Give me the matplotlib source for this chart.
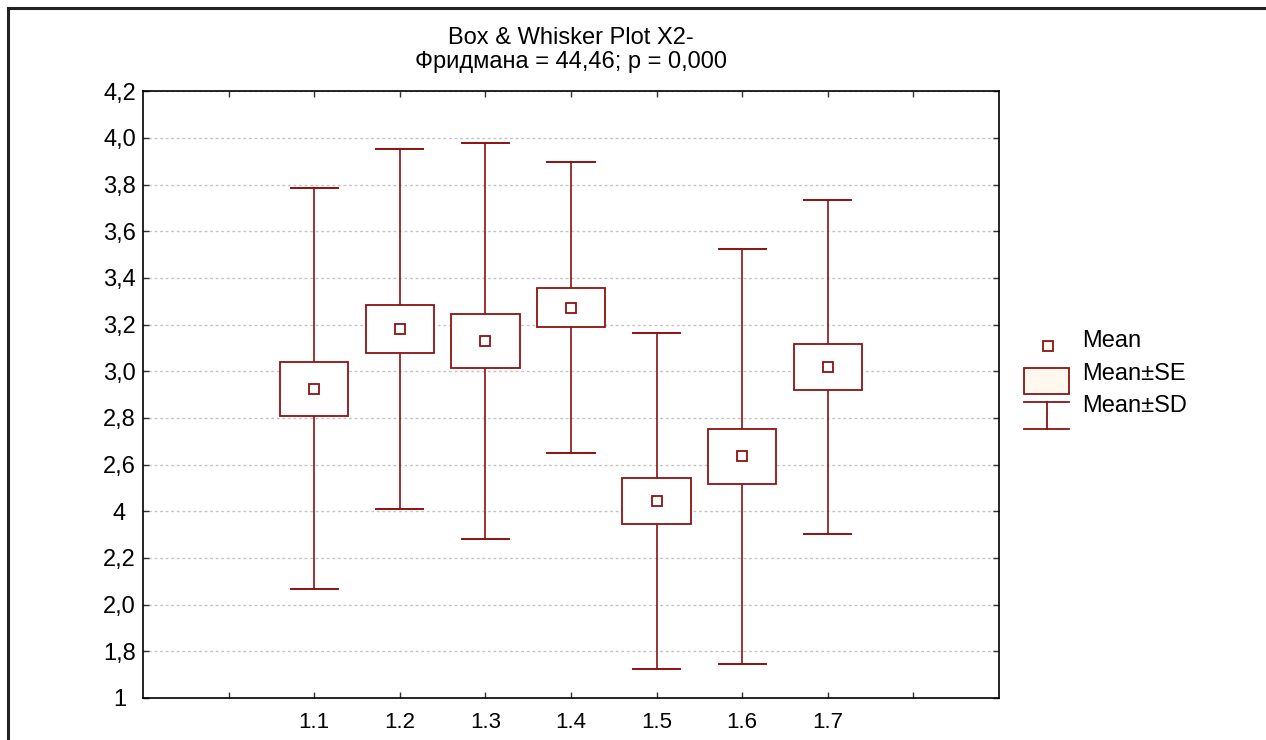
import numpy as np
import matplotlib
matplotlib.use("Agg")
import matplotlib.pyplot as plt
from matplotlib.patches import Rectangle
from matplotlib.lines import Line2D

plt.rcParams['font.family'] = ['Liberation Sans', 'DejaVu Sans']

# values
groups = ['1.1', '1.2', '1.3', '1.4', '1.5', '1.6', '1.7']
means = [2.926, 3.181, 3.130, 3.273, 2.444, 2.635, 3.018]
se = [0.116, 0.103, 0.116, 0.085, 0.097, 0.119, 0.099]
sd = [0.858, 0.773, 0.849, 0.623, 0.720, 0.890, 0.715]
ytick_vals = [4.2, 4.0, 3.8, 3.6, 3.4, 3.2, 3.0, 2.8, 2.6, 2.4, 2.2, 2.0, 1.8, 1.6]
ytick_labels = ['4,2', '4,0', '3,8', '3,6', '3,4', '3,2', '3,0', '2,8', '2,6',
                '4', '2,2', '2,0', '1,8', '1']
title = 'Box & Whisker Plot X2-\nФридмана = 44,46; p = 0,000'

red = '#8b1212'
cream = '#fff8ee'

W, H = 1266, 740
fig = plt.figure(figsize=(W / 100, H / 100), dpi=100)
ax = fig.add_axes([143 / W, 1 - 698 / H, (999 - 143) / W, (698 - 91.3) / H])

xs = np.arange(2, 2 + len(groups))
box_w = 0.8
cap_w = 0.55
for x, m, e, d in zip(xs, means, se, sd):
    ax.plot([x, x], [m - d, m + d], color=red, lw=1.2, zorder=2)
    ax.plot([x - cap_w / 2, x + cap_w / 2], [m + d, m + d], color=red, lw=1.4, zorder=2)
    ax.plot([x - cap_w / 2, x + cap_w / 2], [m - d, m - d], color=red, lw=1.4, zorder=2)
    ax.add_patch(Rectangle((x - box_w / 2, m - e), box_w, 2 * e,
                           facecolor='white', edgecolor=red, lw=1.3, zorder=3))
    ax.plot([x], [m], marker='s', ms=7, mfc='white', mec=red, mew=1.3, zorder=4)

ax.set_xlim(0, 10)
ax.set_ylim(1.6, 4.2)
ax.set_xticks(np.arange(1, 10))
ax.set_xticklabels([''] + groups + [''])
ax.set_yticks(ytick_vals)
ax.set_yticklabels(ytick_labels)
ax.tick_params(direction='in', length=4, width=1, top=True, right=True,
               color='#333333')
ax.tick_params(axis='x', labelsize=16, pad=10)
ax.tick_params(axis='y', labelsize=17, pad=17)
for lab in ax.get_yticklabels():
    lab.set_horizontalalignment('center')
ax.grid(axis='y', color='#c4c4c4', linestyle=(0, (2, 2)), lw=1)
ax.set_axisbelow(True)
for s in ax.spines.values():
    s.set_linewidth(1.2)
ax.set_title(title, fontsize=17, linespacing=1.1, pad=17)

# legend, drawn in pixel coordinates of the figure
lg = fig.add_axes([0, 0, 1, 1], facecolor='none')
lg.set_xlim(0, W)
lg.set_ylim(H, 0)
lg.axis('off')
lg.plot([1047.5], [345.5], marker='s', ms=7, mfc=cream, mec=red, mew=1.3)
lg.add_patch(Rectangle((1024, 368), 45, 26, facecolor=cream, edgecolor=red, lw=1.3))
lg.plot([1024, 1069], [402, 402], color=red, lw=1.3)
lg.plot([1024, 1069], [429, 429], color=red, lw=1.3)
lg.plot([1047, 1047], [402, 429], color=red, lw=1.3)
for ty, txt in [(341, 'Mean'), (374, 'Mean±SE'), (406, 'Mean±SD')]:
    lg.text(1082, ty, txt, fontsize=17, va='center', ha='left')

# outer frame (top and left edges)
fig.add_artist(Line2D([8 / W, 1], [1 - 8 / H, 1 - 8 / H], color='#222222', lw=2.2))
fig.add_artist(Line2D([8 / W, 8 / W], [0, 1 - 8 / H], color='#222222', lw=2.2))

fig.savefig('out.png', dpi=100, facecolor='white')
